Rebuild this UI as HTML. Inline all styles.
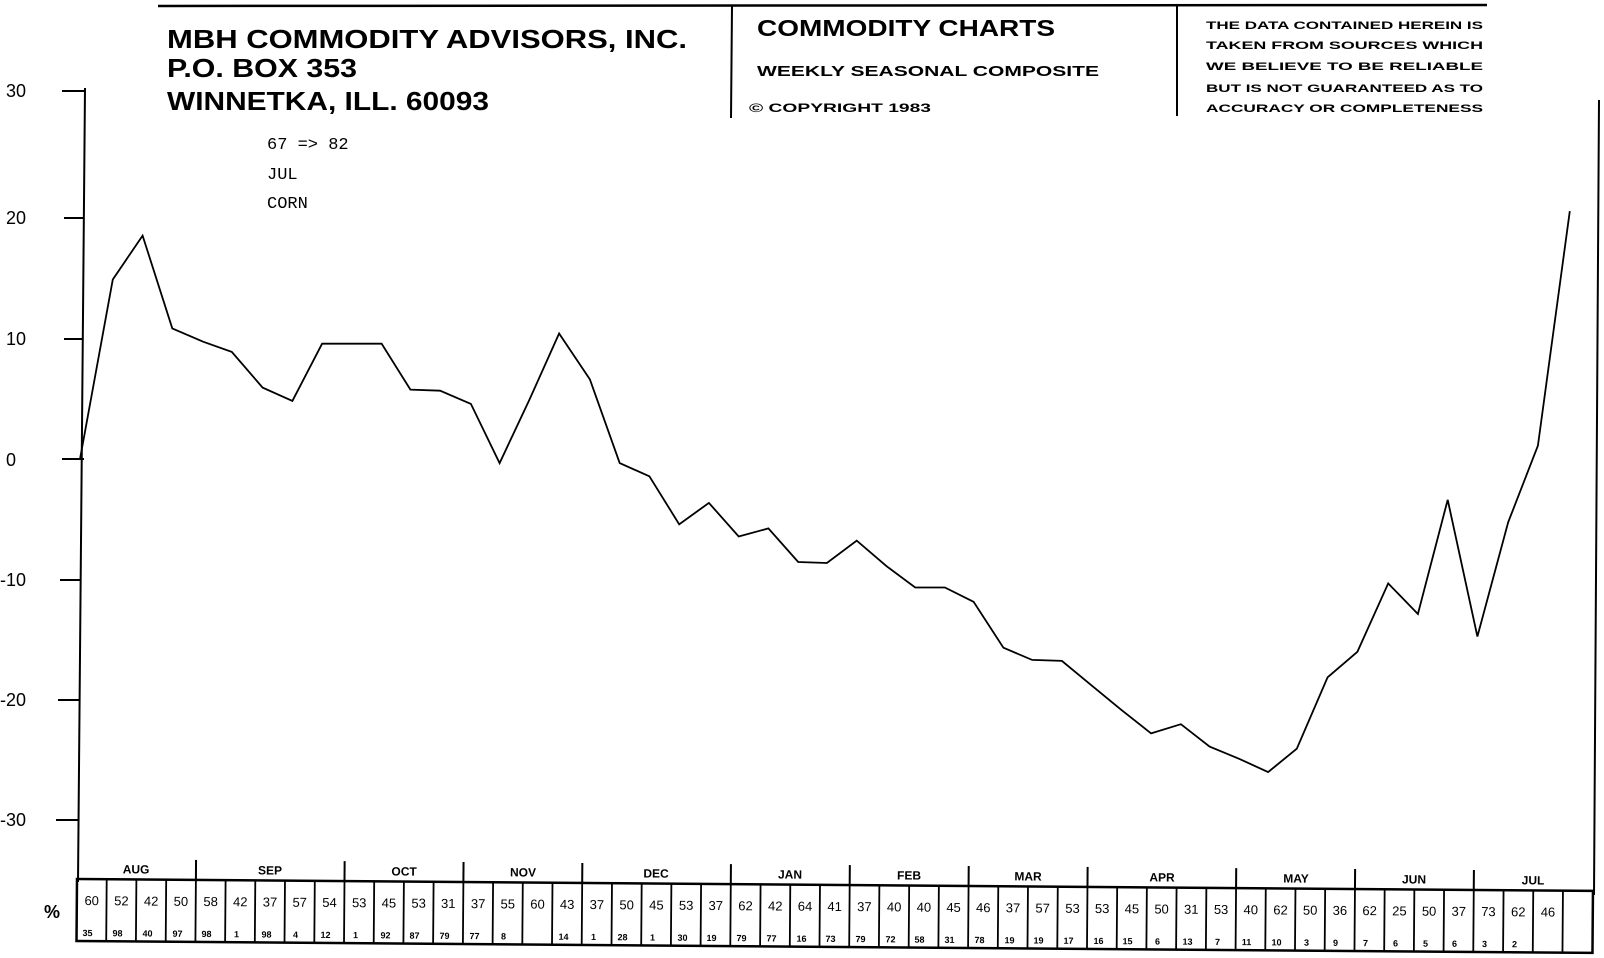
<!DOCTYPE html>
<html><head><meta charset="utf-8"><style>
html,body{margin:0;padding:0;background:#fff;}
svg{display:block;}
text{font-family:"Liberation Sans",sans-serif;fill:#000;}
</style></head><body>
<svg width="1604" height="958" viewBox="0 0 1604 958" xmlns="http://www.w3.org/2000/svg">
<!-- header -->
<line x1="158" y1="6" x2="1487" y2="5" stroke="#000" stroke-width="2.5"/>
<line x1="732" y1="6" x2="731" y2="118" stroke="#000" stroke-width="2"/>
<line x1="1177" y1="6" x2="1177" y2="116" stroke="#000" stroke-width="2"/>
<g font-weight="bold" font-size="26">
<text x="167" y="48" textLength="520" lengthAdjust="spacingAndGlyphs">MBH COMMODITY ADVISORS, INC.</text>
<text x="167" y="77" textLength="190" lengthAdjust="spacingAndGlyphs">P.O. BOX 353</text>
<text x="167" y="110" textLength="322" lengthAdjust="spacingAndGlyphs">WINNETKA, ILL. 60093</text>
</g>
<text x="757" y="36" font-size="23" font-weight="bold" textLength="298" lengthAdjust="spacingAndGlyphs">COMMODITY CHARTS</text>
<text x="757" y="76" font-size="15" font-weight="bold" textLength="342" lengthAdjust="spacingAndGlyphs">WEEKLY SEASONAL COMPOSITE</text>
<text x="749" y="112" font-size="12" font-weight="bold" textLength="182" lengthAdjust="spacingAndGlyphs">© COPYRIGHT 1983</text>
<g font-size="11" font-weight="bold">
<text x="1206" y="29" textLength="277" lengthAdjust="spacingAndGlyphs">THE DATA CONTAINED HEREIN IS</text>
<text x="1206" y="49" textLength="277" lengthAdjust="spacingAndGlyphs">TAKEN FROM SOURCES WHICH</text>
<text x="1206" y="70" textLength="277" lengthAdjust="spacingAndGlyphs">WE BELIEVE TO BE RELIABLE</text>
<text x="1206" y="92" textLength="277" lengthAdjust="spacingAndGlyphs">BUT IS NOT GUARANTEED AS TO</text>
<text x="1206" y="112" textLength="277" lengthAdjust="spacingAndGlyphs">ACCURACY OR COMPLETENESS</text>
</g>
<g font-size="17">
<text x="267" y="149" style="font-family:'Liberation Mono',monospace">67 =&gt; 82</text>
<text x="267" y="179" style="font-family:'Liberation Mono',monospace">JUL</text>
<text x="267" y="208" style="font-family:'Liberation Mono',monospace">CORN</text>
</g>
<!-- y axis -->
<line x1="85" y1="88" x2="78" y2="882" stroke="#000" stroke-width="2"/>
<g stroke="#000" stroke-width="2">
<line x1="62" y1="91" x2="85" y2="91"/>
<line x1="64" y1="218" x2="84" y2="218"/>
<line x1="64" y1="339" x2="83" y2="339"/>
<line x1="62" y1="459" x2="84" y2="459"/>
<line x1="60" y1="580" x2="81" y2="580"/>
<line x1="58" y1="700" x2="80" y2="700"/>
<line x1="56" y1="820" x2="79" y2="820"/>
</g>
<g font-size="18">
<text x="6" y="97">30</text>
<text x="6" y="224">20</text>
<text x="6" y="345">10</text>
<text x="6" y="466">0</text>
<text x="0" y="586">-10</text>
<text x="0" y="706">-20</text>
<text x="0" y="826">-30</text>
</g>
<!-- right border -->
<line x1="1599" y1="100" x2="1594" y2="895" stroke="#000" stroke-width="2"/>
<!-- data -->
<polyline fill="none" stroke="#000" stroke-width="1.8" points="80,459 112.8,279.5 142.6,235.6 172.3,328.4 203.1,341.7 231.8,351.9 262.6,387.6 292.4,400.9 322.1,343.7 351.9,343.7 381.6,343.7 410.4,389.6 440.1,390.7 470.9,403.9 499.6,463.1 529.4,399.8 559.1,333.5 589.9,379.4 619.7,463.1 649.4,476.3 679.2,524.3 708.9,502.9 738.7,536.5 768.4,528.4 798.2,562 826.9,563 856.7,540.6 886.4,566.1 915.2,587.5 944.9,587.5 973.6,601.8 1003.4,647.7 1032.1,659.9 1061.9,660.9 1091.6,685.4 1121.4,709.9 1151.1,733.4 1180.9,724.2 1209.6,746.6 1239.4,758.9 1268.1,772.1 1296.8,748.7 1327.6,677.3 1357.4,651.8 1388.2,583.4 1417.9,614 1447.7,499.8 1477.4,636.5 1508.2,522.2 1537.9,445.7 1569.8,211.1"/>
<text x="44" y="918" font-size="18" font-weight="bold">%</text>
<!-- table -->
<g transform="rotate(0.45 77 879)">
<rect x="77" y="879" width="1516" height="62" fill="none" stroke="#000" stroke-width="2.5"/>
<path stroke="#000" stroke-width="1.8" d="M106.7 879V941M136.4 879V941M166.2 879V941M195.9 879V941M225.6 879V941M255.3 879V941M285 879V941M314.8 879V941M344.5 879V941M374.2 879V941M403.9 879V941M433.6 879V941M463.4 879V941M493.1 879V941M522.8 879V941M552.5 879V941M582.2 879V941M612 879V941M641.7 879V941M671.4 879V941M701.1 879V941M730.8 879V941M760.6 879V941M790.3 879V941M820 879V941M849.7 879V941M879.4 879V941M909.2 879V941M938.9 879V941M968.6 879V941M998.3 879V941M1028 879V941M1057.8 879V941M1087.5 879V941M1117.2 879V941M1146.9 879V941M1176.6 879V941M1206.4 879V941M1236.1 879V941M1265.8 879V941M1295.5 879V941M1325.2 879V941M1355 879V941M1384.7 879V941M1414.4 879V941M1444.1 879V941M1473.8 879V941M1503.6 879V941M1533.3 879V941M1563 879V941"/>
<path stroke="#000" stroke-width="2" d="M195.9 859V879M344.5 859V879M463.4 859V879M582.2 859V879M730.8 859V879M849.7 859V879M968.6 859V879M1087.5 859V879M1236.1 859V879M1355 859V879M1473.8 859V879"/>
<g font-size="12" font-weight="bold" text-anchor="middle">
<text x="136" y="873">AUG</text><text x="270" y="873">SEP</text><text x="404" y="873">OCT</text><text x="523" y="873">NOV</text><text x="656" y="873">DEC</text><text x="790" y="873">JAN</text><text x="909" y="873">FEB</text><text x="1028" y="873">MAR</text><text x="1162" y="873">APR</text><text x="1296" y="873">MAY</text><text x="1414" y="873">JUN</text><text x="1533" y="873">JUL</text>
</g>
<g font-size="13" text-anchor="middle">
<text x="91.9" y="905">60</text><text x="121.6" y="905">52</text><text x="151.3" y="905">42</text><text x="181.1" y="905">50</text><text x="210.8" y="905">58</text><text x="240.5" y="905">42</text><text x="270.2" y="905">37</text><text x="299.9" y="905">57</text><text x="329.7" y="905">54</text><text x="359.4" y="905">53</text><text x="389.1" y="905">45</text><text x="418.8" y="905">53</text><text x="448.5" y="905">31</text><text x="478.3" y="905">37</text><text x="508" y="905">55</text><text x="537.7" y="905">60</text><text x="567.4" y="905">43</text><text x="597.1" y="905">37</text><text x="626.9" y="905">50</text><text x="656.6" y="905">45</text><text x="686.3" y="905">53</text><text x="716" y="905">37</text><text x="745.7" y="905">62</text><text x="775.5" y="905">42</text><text x="805.2" y="905">64</text><text x="834.9" y="905">41</text><text x="864.6" y="905">37</text><text x="894.3" y="905">40</text><text x="924.1" y="905">40</text><text x="953.8" y="905">45</text><text x="983.5" y="905">46</text><text x="1013.2" y="905">37</text><text x="1042.9" y="905">57</text><text x="1072.7" y="905">53</text><text x="1102.4" y="905">53</text><text x="1132.1" y="905">45</text><text x="1161.8" y="905">50</text><text x="1191.5" y="905">31</text><text x="1221.3" y="905">53</text><text x="1251" y="905">40</text><text x="1280.7" y="905">62</text><text x="1310.4" y="905">50</text><text x="1340.1" y="905">36</text><text x="1369.9" y="905">62</text><text x="1399.6" y="905">25</text><text x="1429.3" y="905">50</text><text x="1459" y="905">37</text><text x="1488.7" y="905">73</text><text x="1518.5" y="905">62</text><text x="1548.2" y="905">46</text>
</g>
<g font-size="9" font-weight="bold" text-anchor="middle">
<text x="88" y="936">35</text><text x="118" y="936">98</text><text x="148" y="936">40</text><text x="178" y="936">97</text><text x="207" y="936">98</text><text x="237" y="936">1</text><text x="267" y="936">98</text><text x="296" y="936">4</text><text x="326" y="936">12</text><text x="356" y="936">1</text><text x="386" y="936">92</text><text x="415" y="936">87</text><text x="445" y="936">79</text><text x="475" y="936">77</text><text x="504" y="936">8</text><text x="564" y="936">14</text><text x="594" y="936">1</text><text x="623" y="936">28</text><text x="653" y="936">1</text><text x="683" y="936">30</text><text x="712" y="936">19</text><text x="742" y="936">79</text><text x="772" y="936">77</text><text x="802" y="936">16</text><text x="831" y="936">73</text><text x="861" y="936">79</text><text x="891" y="936">72</text><text x="920" y="936">58</text><text x="950" y="936">31</text><text x="980" y="936">78</text><text x="1010" y="936">19</text><text x="1039" y="936">19</text><text x="1069" y="936">17</text><text x="1099" y="936">16</text><text x="1128" y="936">15</text><text x="1158" y="936">6</text><text x="1188" y="936">13</text><text x="1218" y="936">7</text><text x="1247" y="936">11</text><text x="1277" y="936">10</text><text x="1307" y="936">3</text><text x="1336" y="936">9</text><text x="1366" y="936">7</text><text x="1396" y="936">6</text><text x="1426" y="936">5</text><text x="1455" y="936">6</text><text x="1485" y="936">3</text><text x="1515" y="936">2</text>
</g>
</g>
</svg>
</body></html>
